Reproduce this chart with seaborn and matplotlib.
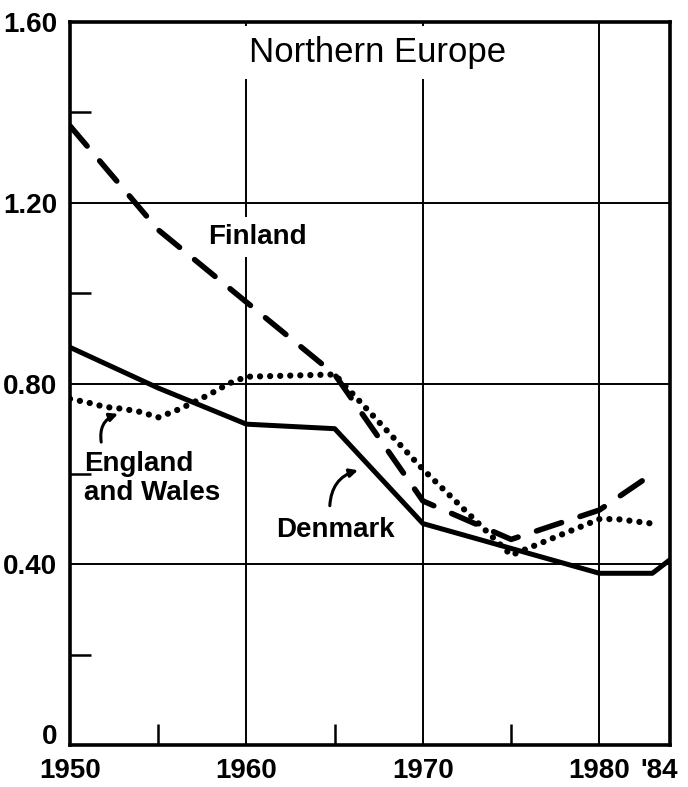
import pandas as pd
import matplotlib.pyplot as plt
import matplotlib.transforms as mtransforms
from matplotlib.ticker import FixedLocator
import seaborn as sns

# Waarden
years_finland = [1950, 1955, 1960, 1965, 1970, 1975, 1980, 1983]
finland = [1.37, 1.14, 0.98, 0.82, 0.54, 0.455, 0.52, 0.60]

years_denmark = [1950, 1955, 1960, 1965, 1970, 1975, 1980, 1983, 1984]
denmark = [0.88, 0.79, 0.71, 0.70, 0.49, 0.435, 0.38, 0.38, 0.41]

years_england = [1950, 1951, 1952, 1953, 1954, 1955, 1956, 1957, 1958, 1959,
                 1960, 1965, 1970, 1975, 1980, 1981, 1983]
england = [0.766, 0.758, 0.748, 0.744, 0.737, 0.725, 0.74, 0.758, 0.778, 0.80,
           0.815, 0.82, 0.61, 0.42, 0.50, 0.50, 0.49]

x_ticks = [1950, 1960, 1970, 1980, 1984]
x_labels = ['1950', '1960', '1970', '1980', "'84"]
y_ticks = [0, 0.4, 0.8, 1.2, 1.6]
y_labels = ['0', '0.40', '0.80', '1.20', '1.60']

df_fin = pd.DataFrame({'Year': years_finland, 'Rate': finland})
df_den = pd.DataFrame({'Year': years_denmark, 'Rate': denmark})
df_ew = pd.DataFrame({'Year': years_england, 'Rate': england})

sns.set_style('white')
plt.rcParams['font.family'] = ['Liberation Sans', 'DejaVu Sans']
plt.rcParams['text.color'] = 'black'
plt.rcParams['xtick.color'] = 'black'
plt.rcParams['ytick.color'] = 'black'

fig = plt.figure(figsize=(6.88, 7.87), dpi=100)
ax = fig.add_axes([70 / 688, 42 / 787, 600 / 688, 723 / 787])

# Drie lijnen, allemaal zwart
sns.lineplot(x='Year', y='Rate', data=df_fin, ax=ax, color='black', linewidth=4,
             linestyle=(0, (4.75, 3.5)), dash_capstyle='round', zorder=3)
sns.lineplot(x='Year', y='Rate', data=df_den, ax=ax, color='black', linewidth=3.6,
             solid_joinstyle='round', zorder=3)
sns.lineplot(x='Year', y='Rate', data=df_ew, ax=ax, color='black', linewidth=4.5,
             linestyle=(0, (0.01, 1.6)), dash_capstyle='round', zorder=3)

ax.set_xlim(1950, 1984)
ax.set_ylim(0, 1.6)
ax.set_xlabel('')
ax.set_ylabel('')

# Assen en rasterlijnen
ax.set_xticks(x_ticks)
ax.set_xticklabels(x_labels)
ax.set_yticks(y_ticks)
ax.set_yticklabels(y_labels)
ax.xaxis.set_minor_locator(FixedLocator([1955, 1965, 1975]))
ax.yaxis.set_minor_locator(FixedLocator([0.2, 0.6, 1.0, 1.4]))
ax.tick_params(which='major', bottom=True, left=True, length=0, pad=9,
               labelsize=20, labelcolor='black')
ax.tick_params(which='minor', bottom=True, left=True, direction='in',
               length=15, width=1.8, color='black')
for lab in ax.get_xticklabels() + ax.get_yticklabels():
    lab.set_fontweight('bold')

# '84 iets naar links, '0' iets omhoog zodat ze niet botsen
last = ax.get_xticklabels()[-1]
last.set_transform(last.get_transform() + mtransforms.ScaledTranslation(-0.11, 0, fig.dpi_scale_trans))
zero = ax.get_yticklabels()[0]
zero.set_transform(zero.get_transform() + mtransforms.ScaledTranslation(0, 0.11, fig.dpi_scale_trans))

ax.grid(True, which='major', color='black', linewidth=1.4)
for s in ax.spines.values():
    s.set_linewidth(2.6)
    s.set_color('black')

# Teksten in de grafiek (witte achtergrond onderbreekt het raster)
ax.text(0.513, 0.958, 'Northern Europe', transform=ax.transAxes, fontsize=25,
        ha='center', va='center', zorder=2,
        bbox=dict(facecolor='white', edgecolor='none', pad=7))
ax.text(0.312, 0.703, 'Finland', transform=ax.transAxes, fontsize=20,
        fontweight='bold', ha='center', va='center', zorder=2,
        bbox=dict(facecolor='white', edgecolor='none', pad=5))
ax.text(0.023, 0.369, 'England\nand Wales', transform=ax.transAxes, fontsize=20,
        fontweight='bold', ha='left', va='center', linespacing=1.15, zorder=2)
ax.text(0.443, 0.297, 'Denmark', transform=ax.transAxes, fontsize=20,
        fontweight='bold', ha='center', va='center', zorder=2)

# Pijltjes naar de lijnen
arrow = dict(arrowstyle='-|>', color='black', lw=2.2, mutation_scale=12,
             shrinkA=0, shrinkB=0)
ax.annotate('', xy=(0.08, 0.458), xytext=(0.052, 0.419), xycoords='axes fraction',
            arrowprops=dict(arrow, connectionstyle='arc3,rad=-0.4'))
ax.annotate('', xy=(0.48, 0.38), xytext=(0.433, 0.331), xycoords='axes fraction',
            arrowprops=dict(arrow, connectionstyle='arc3,rad=-0.35'))

fig.savefig('out.png', dpi=100)
